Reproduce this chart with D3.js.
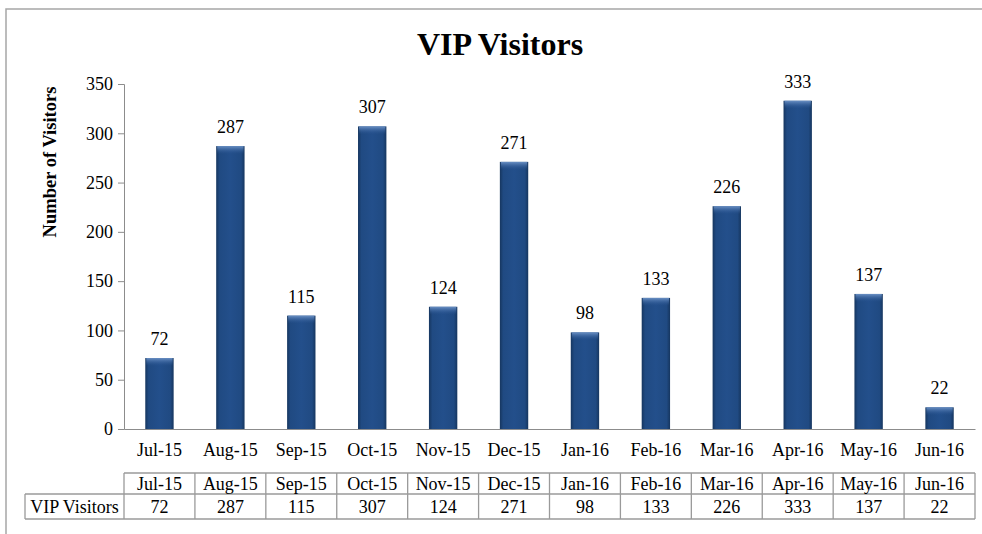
<!DOCTYPE html>
<html>
<head>
<meta charset="utf-8">
<script src="https://cdn.jsdelivr.net/npm/d3@7/dist/d3.min.js"></script>
<style>
  body { margin: 0; background: #fff; }
  svg text { font-family: "Liberation Serif", "Times New Roman", "DejaVu Serif", serif !important; fill: #000; }
</style>
</head>
<body>
<div id="chart"></div>
<script>
// ---- data ----
const months = ["Jul-15", "Aug-15", "Sep-15", "Oct-15", "Nov-15", "Dec-15",
                "Jan-16", "Feb-16", "Mar-16", "Apr-16", "May-16", "Jun-16"];
const visitors = [72, 287, 115, 307, 124, 271, 98, 133, 226, 333, 137, 22];
const yTicks = [0, 50, 100, 150, 200, 250, 300, 350];
const seriesName = "VIP Visitors";

const FONT = "'Liberation Serif', 'Times New Roman', serif";
const FS = "18px";

const W = 982, H = 534;
const margin = { top: 84, right: 7, bottom: 105, left: 124 };
const width = W - margin.left - margin.right;
const height = H - margin.top - margin.bottom;

const svg = d3.select("#chart").append("svg")
    .attr("width", W)
    .attr("height", H)
    .style("font-family", FONT);

// outer frame (runs off the right/bottom like the screenshot)
svg.append("rect")
    .attr("x", 6).attr("y", 9)
    .attr("width", 1000).attr("height", 600)
    .attr("fill", "none")
    .attr("stroke", "#a6a6a6")
    .attr("stroke-width", 1.5);

// gradients for the bevelled bars
const defs = svg.append("defs");
const sideGrad = defs.append("linearGradient").attr("id", "barSide")
    .attr("x1", "0").attr("x2", "1").attr("y1", "0").attr("y2", "0");
sideGrad.append("stop").attr("offset", "0%").attr("stop-color", "#16365f");
sideGrad.append("stop").attr("offset", "12%").attr("stop-color", "#204a82");
sideGrad.append("stop").attr("offset", "50%").attr("stop-color", "#234f8b");
sideGrad.append("stop").attr("offset", "88%").attr("stop-color", "#204a82");
sideGrad.append("stop").attr("offset", "100%").attr("stop-color", "#16365f");

const topGrad = defs.append("linearGradient").attr("id", "barTop")
    .attr("x1", "0").attr("x2", "0").attr("y1", "0").attr("y2", "1");
topGrad.append("stop").attr("offset", "0%").attr("stop-color", "#6a90c4");
topGrad.append("stop").attr("offset", "100%").attr("stop-color", "#2a5593").attr("stop-opacity", 0);

const g = svg.append("g")
    .attr("transform", `translate(${margin.left},${margin.top})`);

// ---- scales ----
const x = d3.scaleBand()
    .domain(months)
    .range([0, width])
    .paddingInner(0.6)
    .paddingOuter(0.3);

const y = d3.scaleLinear()
    .domain([0, 350])
    .range([height, 0]);

const step = x.step();

// ---- axes ----
const yAxis = g.append("g")
    .call(d3.axisLeft(y).tickValues(yTicks).tickSize(6).tickPadding(5));
yAxis.attr("font-family", null).attr("font-size", null);
yAxis.select(".domain").attr("stroke", "#8c8c8c");
yAxis.selectAll(".tick line").attr("stroke", "#8c8c8c");
yAxis.selectAll(".tick text")
    .style("font-family", FONT)
    .style("font-size", FS);

const xAxis = g.append("g")
    .attr("transform", `translate(0,${height})`)
    .call(d3.axisBottom(x).tickSize(0).tickPadding(14));
xAxis.attr("font-family", null).attr("font-size", null);
xAxis.select(".domain").attr("stroke", "#8c8c8c");
xAxis.selectAll(".tick text")
    .style("font-family", FONT)
    .style("font-size", FS);

// ---- bars ----
const bars = g.selectAll("g.bar")
    .data(months.map((m, i) => ({ month: m, value: visitors[i] })))
    .join("g")
    .attr("class", "bar");

bars.append("rect")
    .attr("x", d => x(d.month))
    .attr("y", d => y(d.value))
    .attr("width", x.bandwidth())
    .attr("height", d => height - y(d.value))
    .attr("fill", "url(#barSide)");

bars.append("rect")
    .attr("x", d => x(d.month) + 1)
    .attr("y", d => y(d.value))
    .attr("width", x.bandwidth() - 2)
    .attr("height", d => Math.min(8, height - y(d.value)))
    .attr("fill", "url(#barTop)");

bars.append("text")
    .attr("x", d => x(d.month) + x.bandwidth() / 2)
    .attr("y", d => y(d.value) - 13)
    .attr("text-anchor", "middle")
    .style("font-size", FS)
    .text(d => d.value);

// ---- titles ----
svg.append("text")
    .attr("x", 500)
    .attr("y", 55)
    .attr("text-anchor", "middle")
    .style("font-size", "32px")
    .style("font-weight", "bold")
    .text("VIP Visitors");

svg.append("text")
    .attr("transform", `translate(56,162) rotate(-90)`)
    .attr("text-anchor", "middle")
    .style("font-size", "18.5px")
    .style("font-weight", "bold")
    .text("Number of Visitors");

// ---- data table ----
const row1Top = 473, row1Bot = 494, row2Bot = 519;
const tbl = svg.append("g").attr("transform", `translate(${margin.left},0)`);
const lineColor = "#9a9a9a";
const firstCellX = 25 - margin.left;

tbl.append("line").attr("x1", 0).attr("x2", width).attr("y1", row1Top).attr("y2", row1Top);
tbl.append("line").attr("x1", firstCellX).attr("x2", width).attr("y1", row1Bot).attr("y2", row1Bot);
tbl.append("line").attr("x1", firstCellX).attr("x2", width).attr("y1", row2Bot).attr("y2", row2Bot);
tbl.append("line").attr("x1", firstCellX).attr("x2", firstCellX).attr("y1", row1Bot).attr("y2", row2Bot);

tbl.selectAll("line.vb")
    .data(d3.range(months.length + 1))
    .join("line")
    .attr("class", "vb")
    .attr("x1", i => i * step)
    .attr("x2", i => i * step)
    .attr("y1", row1Top)
    .attr("y2", row2Bot);

tbl.selectAll("line")
    .attr("stroke", lineColor)
    .attr("stroke-width", 1.3);

tbl.selectAll("text.hdr")
    .data(months)
    .join("text")
    .attr("class", "hdr")
    .attr("x", d => x(d) + x.bandwidth() / 2)
    .attr("y", (row1Top + row1Bot) / 2 + 6)
    .attr("text-anchor", "middle")
    .style("font-size", FS)
    .text(d => d);

tbl.selectAll("text.val")
    .data(visitors)
    .join("text")
    .attr("class", "val")
    .attr("x", (d, i) => x(months[i]) + x.bandwidth() / 2)
    .attr("y", (row1Bot + row2Bot) / 2 + 6)
    .attr("text-anchor", "middle")
    .style("font-size", FS)
    .text(d => d);

tbl.append("text")
    .attr("x", firstCellX / 2)
    .attr("y", (row1Bot + row2Bot) / 2 + 6)
    .attr("text-anchor", "middle")
    .style("font-size", FS)
    .text(seriesName);
</script>
</body>
</html>
